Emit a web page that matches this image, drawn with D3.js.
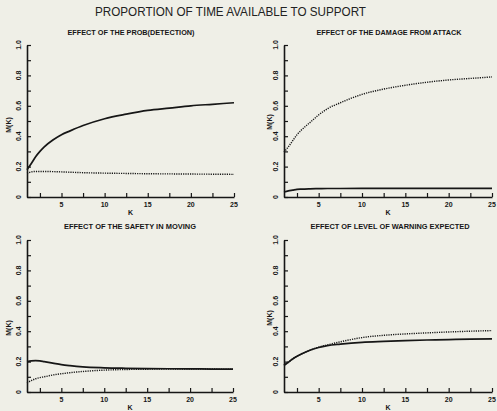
<!DOCTYPE html>
<html><head><meta charset="utf-8">
<script src="https://cdn.jsdelivr.net/npm/d3@7"></script>
<style>
html,body{margin:0;padding:0;background:#efefe7;}
svg{display:block;}
</style></head>
<body>
<script>
// ---- data ----
const mainTitle = "PROPORTION OF TIME AVAILABLE TO SUPPORT";
const panelTitles = [
  "EFFECT OF THE PROB(DETECTION)",
  "EFFECT OF THE DAMAGE FROM ATTACK",
  "EFFECT OF THE SAFETY IN MOVING",
  "EFFECT OF LEVEL OF WARNING EXPECTED"
];
const kValues = [1, 1.5, 2, 2.5, 3, 4, 5, 6, 7.5, 10, 12.5, 15, 17.5, 20, 22.5, 25];
const p1Solid  = [0.18, 0.22, 0.265, 0.30, 0.33, 0.375, 0.41, 0.435, 0.47, 0.515, 0.545, 0.57, 0.585, 0.60, 0.61, 0.62];
const p1Dotted = [0.155, 0.165, 0.168, 0.168, 0.168, 0.167, 0.165, 0.163, 0.160, 0.157, 0.155, 0.153, 0.152, 0.151, 0.150, 0.149];
const p2Solid  = [0.033, 0.04, 0.045, 0.05, 0.052, 0.054, 0.055, 0.056, 0.056, 0.057, 0.057, 0.057, 0.057, 0.057, 0.057, 0.057];
const p2Dotted = [0.295, 0.33, 0.37, 0.41, 0.44, 0.49, 0.54, 0.58, 0.62, 0.675, 0.71, 0.735, 0.755, 0.77, 0.78, 0.79];
const p3Solid  = [0.20, 0.205, 0.207, 0.205, 0.20, 0.19, 0.18, 0.173, 0.165, 0.159, 0.156, 0.154, 0.153, 0.152, 0.151, 0.15];
const p3Dotted = [0.06, 0.075, 0.087, 0.095, 0.10, 0.112, 0.12, 0.127, 0.135, 0.144, 0.148, 0.15, 0.151, 0.151, 0.151, 0.15];
const p4Solid  = [0.175, 0.196, 0.217, 0.235, 0.25, 0.275, 0.293, 0.305, 0.315, 0.327, 0.333, 0.338, 0.342, 0.345, 0.348, 0.35];
const p4Dotted = [0.175, 0.196, 0.217, 0.235, 0.25, 0.275, 0.295, 0.31, 0.33, 0.358, 0.373, 0.382, 0.389, 0.395, 0.40, 0.404];
const xTickValues = [2.5, 5, 7.5, 10, 12.5, 15, 17.5, 20, 22.5, 25];
const xTickLabels = ["5", "10", "15", "20", "25"];
const yTickValues = [0, 0.1, 0.2, 0.3, 0.4, 0.5, 0.6, 0.7, 0.8, 0.9, 1.0];
const yTickLabels = ["0", "0.2", "0.4", "0.6", "0.8", "1.0"];
const yLabel = "M(K)";
const xLabel = "K";

// ---- layout ----
const W = 497, H = 411;
const ink = "#161616";
const font = "Liberation Sans, Arial, sans-serif";
const panels = [
  {title: panelTitles[0], solid: p1Solid, dotted: p1Dotted, x0: 27, x1: 234, y0: 197, y1: 45, tx: 131, ty: 35, mx: 11, my: 125},
  {title: panelTitles[1], solid: p2Solid, dotted: p2Dotted, x0: 284, x1: 492, y0: 197, y1: 45, tx: 389, ty: 35, mx: 272, my: 122},
  {title: panelTitles[2], solid: p3Solid, dotted: p3Dotted, x0: 27, x1: 233, y0: 392, y1: 240, tx: 130, ty: 229, mx: 11, my: 328},
  {title: panelTitles[3], solid: p4Solid, dotted: p4Dotted, x0: 284, x1: 492, y0: 392, y1: 240, tx: 390, ty: 229, mx: 272, my: 318}
];
const titleWidths = [127, 145, 132, 159];

const svg = d3.select("body").append("svg").attr("width", W).attr("height", H)
  .style("background", "#efefe7");

svg.append("text").attr("x", 95).attr("y", 15.5)
  .attr("font-family", font).attr("font-size", 13.5)
  .attr("fill", "#222").attr("textLength", 271).attr("lengthAdjust", "spacingAndGlyphs")
  .text(mainTitle);

panels.forEach((p, i) => {
  const x = d3.scaleLinear().domain([1, 25]).range([p.x0, p.x1]);
  const y = d3.scaleLinear().domain([0, 1]).range([p.y0, p.y1]);
  const g = svg.append("g");

  // panel title
  g.append("text").attr("x", p.tx).attr("y", p.ty).attr("text-anchor", "middle")
    .attr("font-family", font).attr("font-weight", "bold")
    .attr("font-size", 7.2).attr("fill", ink)
    .attr("textLength", titleWidths[i]).attr("lengthAdjust", "spacingAndGlyphs")
    .text(p.title);

  // x axis
  const xAxis = d3.axisTop(x).tickValues(xTickValues).tickSize(4).tickSizeOuter(0).tickFormat("");
  const xg = g.append("g").attr("transform", `translate(0,${p.y0})`).call(xAxis);
  xg.select(".domain").attr("stroke", ink).attr("stroke-width", 1.6);
  xg.selectAll(".tick line").attr("stroke", ink).attr("stroke-width", 1.2);
  g.selectAll(".xlab").data(xTickLabels).enter().append("text")
    .attr("x", d => x(+d)).attr("y", p.y0 + 9.5).attr("text-anchor", "middle")
    .attr("font-family", font).attr("font-weight", "bold")
    .attr("font-size", 7).attr("fill", ink).text(d => d);
  g.append("text").attr("x", (p.x0 + p.x1) / 2).attr("y", p.y0 + 17.5).attr("text-anchor", "middle")
    .attr("font-family", font).attr("font-weight", "bold")
    .attr("font-size", 7).attr("fill", ink).text(xLabel);

  // y axis
  const yAxis = d3.axisRight(y).tickValues(yTickValues).tickSize(4).tickSizeOuter(0).tickFormat("");
  const yg = g.append("g").attr("transform", `translate(${p.x0},0)`).call(yAxis);
  yg.select(".domain").attr("stroke", ink).attr("stroke-width", 1.6);
  yg.selectAll(".tick line").attr("stroke", ink).attr("stroke-width", 1.2);
  g.selectAll(".ylab").data(yTickLabels).enter().append("text")
    .attr("transform", d => `translate(${p.x0 - 6},${y(+d)}) rotate(-90)`)
    .attr("text-anchor", "middle")
    .attr("font-family", font).attr("font-weight", "bold")
    .attr("font-size", 7).attr("fill", ink).text(d => d);
  g.append("text").attr("transform", `translate(${p.mx},${p.my}) rotate(-90)`)
    .attr("text-anchor", "middle")
    .attr("font-family", font).attr("font-weight", "bold")
    .attr("font-size", 7).attr("fill", ink).text(yLabel);

  // lines
  const line = d3.line().x((d, j) => x(kValues[j])).y(d => y(d)).curve(d3.curveMonotoneX);
  g.append("path").datum(p.dotted).attr("d", line).attr("fill", "none")
    .attr("stroke", ink).attr("stroke-width", 1.4).attr("stroke-dasharray", "1.2,1.1");
  g.append("path").datum(p.solid).attr("d", line).attr("fill", "none")
    .attr("stroke", ink).attr("stroke-width", 1.7);
});
</script>
</body></html>
